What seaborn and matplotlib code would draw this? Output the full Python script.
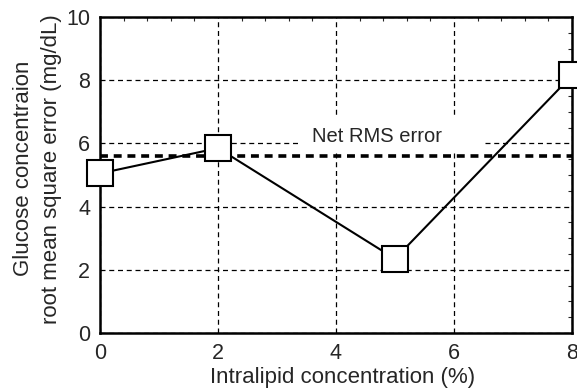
import matplotlib
matplotlib.use("Agg")
import matplotlib.pyplot as plt
from matplotlib.ticker import MultipleLocator
from matplotlib.patches import Rectangle
import seaborn as sns
import pandas as pd

concentration = [0, 2, 5, 8]
rms_error = [5.05, 5.85, 2.35, 8.15]
net_rms = 5.61
x_ticks = [0, 2, 4, 6, 8]
y_ticks = [0, 2, 4, 6, 8, 10]

df = pd.DataFrame({"conc": concentration, "rms": rms_error})

sns.set_style("white")
plt.rcParams["font.family"] = ["Liberation Sans", "DejaVu Sans"]

fig = plt.figure(figsize=(5.77, 3.89), dpi=100)
ax = fig.add_axes([100/577, 1-333/389, 472/577, 316/389])
ax.set_axisbelow(True)

ax.grid(True, which="major", color="black", linestyle=(0, (4, 3)), linewidth=0.9)
ax.add_patch(Rectangle((3.36, 5.73), 3.11, 1.11, facecolor="white", edgecolor="none", zorder=1.5))
ax.axhline(net_rms, color="black", linestyle=(0, (2.2, 1.6)), linewidth=2.6, zorder=2)

sns.lineplot(data=df, x="conc", y="rms", ax=ax, color="black", linewidth=1.5,
             marker="s", markersize=18.5, markerfacecolor="white",
             markeredgecolor="black", markeredgewidth=1.5, clip_on=False, zorder=5)

ax.text(4.69, 6.22, "Net RMS error", fontsize=14.5, ha="center", va="center", zorder=3)

ax.set_xlim(0, 8)
ax.set_ylim(0, 10)
ax.set_xticks(x_ticks)
ax.set_yticks(y_ticks)
ax.xaxis.set_minor_locator(MultipleLocator(0.4))
ax.yaxis.set_minor_locator(MultipleLocator(0.5))
ax.tick_params(which="both", direction="in", top=True, right=True, labelsize=15.5)
ax.tick_params(which="major", length=0, pad=7)
ax.tick_params(which="minor", length=3, width=0.8)
for s in ax.spines.values():
    s.set_linewidth(1.8)
    s.set_color("black")

ax.set_xlabel("Intralipid concentration (%)", fontsize=16, labelpad=2, x=0.513)
ax.set_ylabel("Glucose concentraion\nroot mean square error (mg/dL)", fontsize=16, labelpad=3,
              linespacing=1.45, y=0.52)

fig.savefig("out.png", dpi=100)
